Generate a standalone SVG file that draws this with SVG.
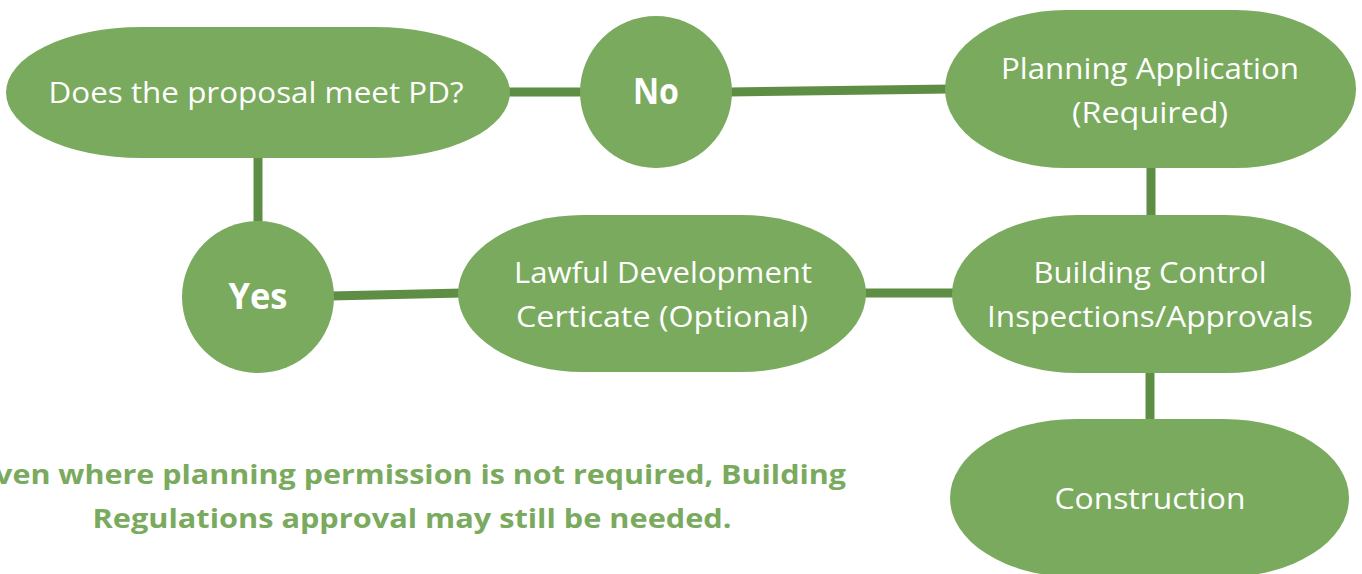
<svg xmlns="http://www.w3.org/2000/svg" width="1362" height="574" viewBox="0 0 1362 574">
<style>
.node{fill:#7aaa5e;}
.lbl{font-family:"Open Sans","DejaVu Sans",sans-serif;font-size:29px;fill:#ffffff;text-anchor:middle;}
.big{font-family:"Open Sans","DejaVu Sans",sans-serif;font-size:35px;font-weight:700;fill:#ffffff;text-anchor:middle;}
.note{font-family:"Open Sans","DejaVu Sans",sans-serif;font-size:27px;font-weight:700;fill:#7aaa5e;text-anchor:middle;}
.conn line{stroke:#5e8e43;stroke-width:9;}
</style>
<rect width="1362" height="574" fill="#ffffff"/>
<g id="connectors" class="conn">
<line x1="505" y1="92" x2="585" y2="92"/>
<line x1="728" y1="92" x2="950" y2="89"/>
<line x1="258" y1="150" x2="258" y2="228"/>
<line x1="330" y1="296" x2="463" y2="293"/>
<line x1="860" y1="293" x2="958" y2="293"/>
<line x1="1151" y1="160" x2="1151" y2="222"/>
<line x1="1150" y1="365" x2="1150" y2="425"/>
</g>
<g id="node-pd">
<rect class="node" x="6" y="27" width="504" height="131" rx="135" ry="65.5"/>
<text class="lbl" x="256" y="103" textLength="415" lengthAdjust="spacingAndGlyphs">Does the proposal meet PD?</text>
</g>
<g id="node-no">
<circle class="node" cx="656" cy="92" r="76"/>
<text class="big" x="656" y="104" textLength="46" lengthAdjust="spacingAndGlyphs">No</text>
</g>
<g id="node-planning">
<rect class="node" x="945" y="10" width="411" height="158" rx="120" ry="79"/>
<text class="lbl" x="1150" y="79" textLength="298" lengthAdjust="spacingAndGlyphs">Planning Application</text>
<text class="lbl" x="1150" y="123" textLength="156" lengthAdjust="spacingAndGlyphs">(Required)</text>
</g>
<g id="node-yes">
<circle class="node" cx="258" cy="297" r="76"/>
<text class="big" x="258" y="309" textLength="59" lengthAdjust="spacingAndGlyphs">Yes</text>
</g>
<g id="node-ldc">
<rect class="node" x="458" y="215" width="408" height="157" rx="125" ry="78.5"/>
<text class="lbl" x="663" y="283" textLength="298" lengthAdjust="spacingAndGlyphs">Lawful Development</text>
<text class="lbl" x="662" y="327" textLength="292" lengthAdjust="spacingAndGlyphs">Certicate (Optional)</text>
</g>
<g id="node-building">
<rect class="node" x="952" y="215" width="399" height="158" rx="125" ry="79"/>
<text class="lbl" x="1150" y="283" textLength="233" lengthAdjust="spacingAndGlyphs">Building Control</text>
<text class="lbl" x="1150" y="327" textLength="326" lengthAdjust="spacingAndGlyphs">Inspections/Approvals</text>
</g>
<g id="node-construction">
<rect class="node" x="950" y="419" width="399" height="158" rx="125" ry="79"/>
<text class="lbl" x="1150" y="509" textLength="191" lengthAdjust="spacingAndGlyphs">Construction</text>
</g>
<g id="note">
<text class="note" x="412" y="484" textLength="868" lengthAdjust="spacingAndGlyphs">Even where planning permission is not required, Building</text>
<text class="note" x="412" y="528" textLength="639" lengthAdjust="spacingAndGlyphs">Regulations approval may still be needed.</text>
</g>
</svg>
